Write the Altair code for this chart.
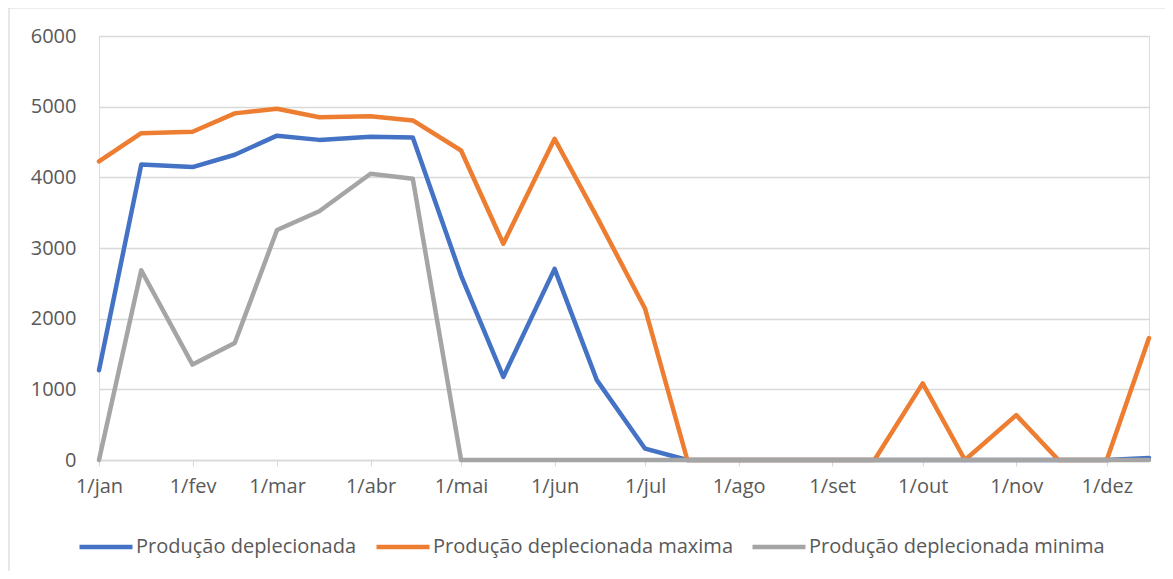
import altair as alt
import pandas as pd

dates = ["2021-01-01", "2021-01-15", "2021-02-01", "2021-02-15", "2021-03-01", "2021-03-15",
         "2021-04-01", "2021-04-15", "2021-05-01", "2021-05-15", "2021-06-01", "2021-06-15",
         "2021-07-01", "2021-07-15", "2021-08-01", "2021-08-15", "2021-09-01", "2021-09-15",
         "2021-10-01", "2021-10-15", "2021-11-01", "2021-11-15", "2021-12-01", "2021-12-15"]

prod = [1270, 4180, 4145, 4320, 4590, 4530, 4575, 4565, 2610, 1175, 2705, 1130,
        160, 0, 0, 0, 0, 0, 0, 0, 0, 0, 0, 30]
prod_max = [4225, 4625, 4645, 4905, 4970, 4850, 4865, 4805, 4380, 3060, 4545, 3440,
            2140, 0, 0, 0, 0, 0, 1085, 0, 635, 0, 0, 1725]
prod_min = [0, 2685, 1350, 1655, 3255, 3520, 4050, 3980, 0, 0, 0, 0,
            0, 0, 0, 0, 0, 0, 0, 0, 0, 0, 0, 0]

series = ["Produção deplecionada", "Produção deplecionada maxima", "Produção deplecionada minima"]
colors = ["#4472C4", "#ED7D31", "#A5A5A5"]
month_names = ["jan", "fev", "mar", "abr", "mai", "jun", "jul", "ago", "set", "out", "nov", "dez"]
y_ticks = [0, 1000, 2000, 3000, 4000, 5000, 6000]

rows = []
for name, vals in zip(series, [prod, prod_max, prod_min]):
    for d, v in zip(dates, vals):
        rows.append({"date": d, "value": v, "series": name})
df = pd.DataFrame(rows)

FONT = "Open Sans"
TXT = "#595959"
GRID = "#D9D9D9"

month_vals = [alt.DateTime(year=2021, month=m, date=1, utc=True) for m in range(1, 13)]
label_expr = "'1/' + [" + ",".join("'%s'" % m for m in month_names) + "][utcmonth(datum.value)]"

lines = alt.Chart(df).mark_line(strokeWidth=4.5, strokeCap="round", strokeJoin="round").encode(
    x=alt.X("date:T",
            scale=alt.Scale(type="utc",
                            domain=[alt.DateTime(year=2021, month=1, date=1, utc=True),
                                    alt.DateTime(year=2021, month=12, date=15, utc=True)]),
            axis=alt.Axis(values=month_vals, labelExpr=label_expr, title=None, grid=False,
                          domainColor=GRID, domainWidth=1.5, tickColor=GRID, tickSize=6,
                          tickWidth=1.2, labelFont=FONT, labelFontSize=20, labelColor=TXT,
                          labelPadding=10, labelFlush=False, labelOverlap=False)),
    y=alt.Y("value:Q",
            scale=alt.Scale(domain=[0, 6000], nice=False),
            axis=alt.Axis(values=y_ticks, format="d", title=None, grid=True, gridColor=GRID,
                          gridWidth=1.3, domain=False, ticks=False, labelFont=FONT,
                          labelFontSize=20, labelColor=TXT, labelPadding=23)),
    color=alt.Color("series:N",
                    scale=alt.Scale(domain=series, range=colors),
                    legend=alt.Legend(title=None, orient="none", direction="horizontal",
                                      legendX=-22, legendY=482, symbolType="stroke",
                                      symbolStrokeWidth=4.5, symbolSize=2809,
                                      labelFont=FONT, labelFontSize=20, labelColor=TXT,
                                      labelOffset=1, columnPadding=10, padding=0,
                                      labelLimit=0)),
)

border = alt.Chart(pd.DataFrame({"a": [0]})).mark_rect(
    fill="white", fillOpacity=0, stroke=GRID, strokeWidth=1.2
).encode(
    x=alt.value(-90), x2=alt.value(1200), y=alt.value(-28), y2=alt.value(700)
)

chart = alt.layer(border, lines).properties(
    width=1050, height=424,
    autosize=alt.AutoSizeParams(type="none"),
    padding={"left": 91, "top": 28, "right": 16, "bottom": 111},
).configure_view(stroke=None).configure(background="white")

chart.save("out.html", embed_options={"renderer": "svg", "actions": False})
